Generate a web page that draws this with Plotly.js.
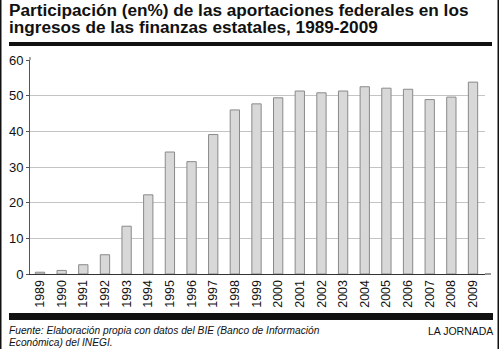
<!DOCTYPE html>
<html>
<head>
<meta charset="utf-8">
<script src="https://cdn.plot.ly/plotly-3.0.1.min.js"></script>
<style>
html,body{margin:0;padding:0;background:#fff;}
#chart{width:500px;height:349px;}
</style>
</head>
<body>
<div id="chart"></div>
<script>
var years = ["1989","1990","1991","1992","1993","1994","1995","1996","1997","1998","1999","2000","2001","2002","2003","2004","2005","2006","2007","2008","2009"];
var shares = [0.5, 1.0, 2.6, 5.4, 13.4, 22.2, 34.2, 31.5, 39.1, 46.0, 47.7, 49.4, 51.3, 50.8, 51.3, 52.5, 52.1, 51.8, 48.9, 49.6, 53.8];
var yTicks = [0, 10, 20, 30, 40, 50, 60];

var titleLines = ["Participación (en%) de las aportaciones federales en los", "ingresos de las finanzas estatales, 1989-2009"];
var sourceLines = ["Fuente: Elaboración propia con datos del BIE (Banco de Información", "Económica) del INEGI."];
var credit = "LA JORNADA";

// plot area in pixels
var L = 30, R = 485, T = 60, B = 274, W = 500, H = 349;
function px(x){ return (x - L) / (R - L); }
function py(y){ return (B - y) / (B - T); }

var trace = {
  type: "bar",
  x: years,
  y: shares,
  marker: {color: "#d8d8d8", line: {color: "#8a8a8a", width: 1}},
  hoverinfo: "x+y"
};

var fam = "Liberation Sans, Arial, sans-serif";
function textAnn(txt, x, y, xanchor, size, name){
  return {name: name, text: txt, xref: "paper", yref: "paper", x: px(x), y: py(y), xanchor: xanchor, yanchor: "top",
          align: xanchor, showarrow: false, borderpad: 0, font: {size: size, color: "#111", family: fam}};
}

var layout = {
  width: W, height: H,
  margin: {l: L, r: W - R, t: T, b: H - B, pad: 0},
  paper_bgcolor: "#fff",
  plot_bgcolor: "#fff",
  showlegend: false,
  bargap: 0.57,
  font: {family: fam, color: "#111"},
  xaxis: {
    type: "category",
    range: [-0.462, 20.554],
    tickangle: -90,
    tickfont: {size: 12.5, color: "#111"},
    showline: true, linecolor: "#333", linewidth: 1,
    ticks: "", showgrid: false, zeroline: false,
    fixedrange: true
  },
  yaxis: {
    range: [0, 60],
    tickvals: yTicks,
    ticktext: yTicks.map(String),
    tickfont: {size: 13, color: "#111"},
    showline: true, linecolor: "#555", linewidth: 1,
    ticks: "outside", ticklen: 3, tickcolor: "#555",
    showgrid: true, gridcolor: "#c4c4c4", gridwidth: 1,
    zeroline: false,
    fixedrange: true
  },
  annotations: [
    textAnn("<b>" + titleLines[0] + "<br>" + titleLines[1] + "</b>", 8, -1, "left", 17.2, "title"),
    textAnn("<i>" + sourceLines[0] + "<br>" + sourceLines[1] + "</i>", 8, 324, "left", 10.2, "source"),
    textAnn(credit, 494, 324, "right", 10.5, "credit")
  ],
  shapes: [
    {type: "line", xref: "paper", yref: "paper", x0: px(485), x1: px(491), y0: 0, y1: 0,
     line: {color: "#333", width: 1}},
    {type: "line", xref: "paper", yref: "paper", x0: 0, x1: 0, y0: 1, y1: py(57),
     line: {color: "#555", width: 1}},
    {type: "rect", xref: "paper", yref: "paper", x0: px(9), x1: px(492), y0: py(42), y1: py(46),
     fillcolor: "#111", line: {width: 0}},
    {type: "rect", xref: "paper", yref: "paper", x0: px(9), x1: px(493), y0: py(313), y1: py(320),
     fillcolor: "#111", line: {width: 0}},
    {type: "rect", xref: "paper", yref: "paper", x0: px(0), x1: px(1.5), y0: py(0), y1: py(349),
     fillcolor: "#111", line: {width: 0}},
    {type: "rect", xref: "paper", yref: "paper", x0: px(497.5), x1: px(499), y0: py(0), y1: py(349),
     fillcolor: "#111", line: {width: 0}}
  ]
};

Plotly.newPlot("chart", [trace], layout, {displayModeBar: false, staticPlot: true}).then(function(gd){
  // tighten the leading of the two-line title and source to match the printed chart
  var anns = gd.querySelectorAll(".annotation-text");
  var leading = [0.96, 1.16];
  for (var i = 0; i < 2 && i < anns.length; i++) {
    var lines = anns[i].querySelectorAll("tspan.line");
    for (var j = 1; j < lines.length; j++) lines[j].setAttribute("dy", leading[i] + "em");
  }
});
</script>
</body>
</html>
